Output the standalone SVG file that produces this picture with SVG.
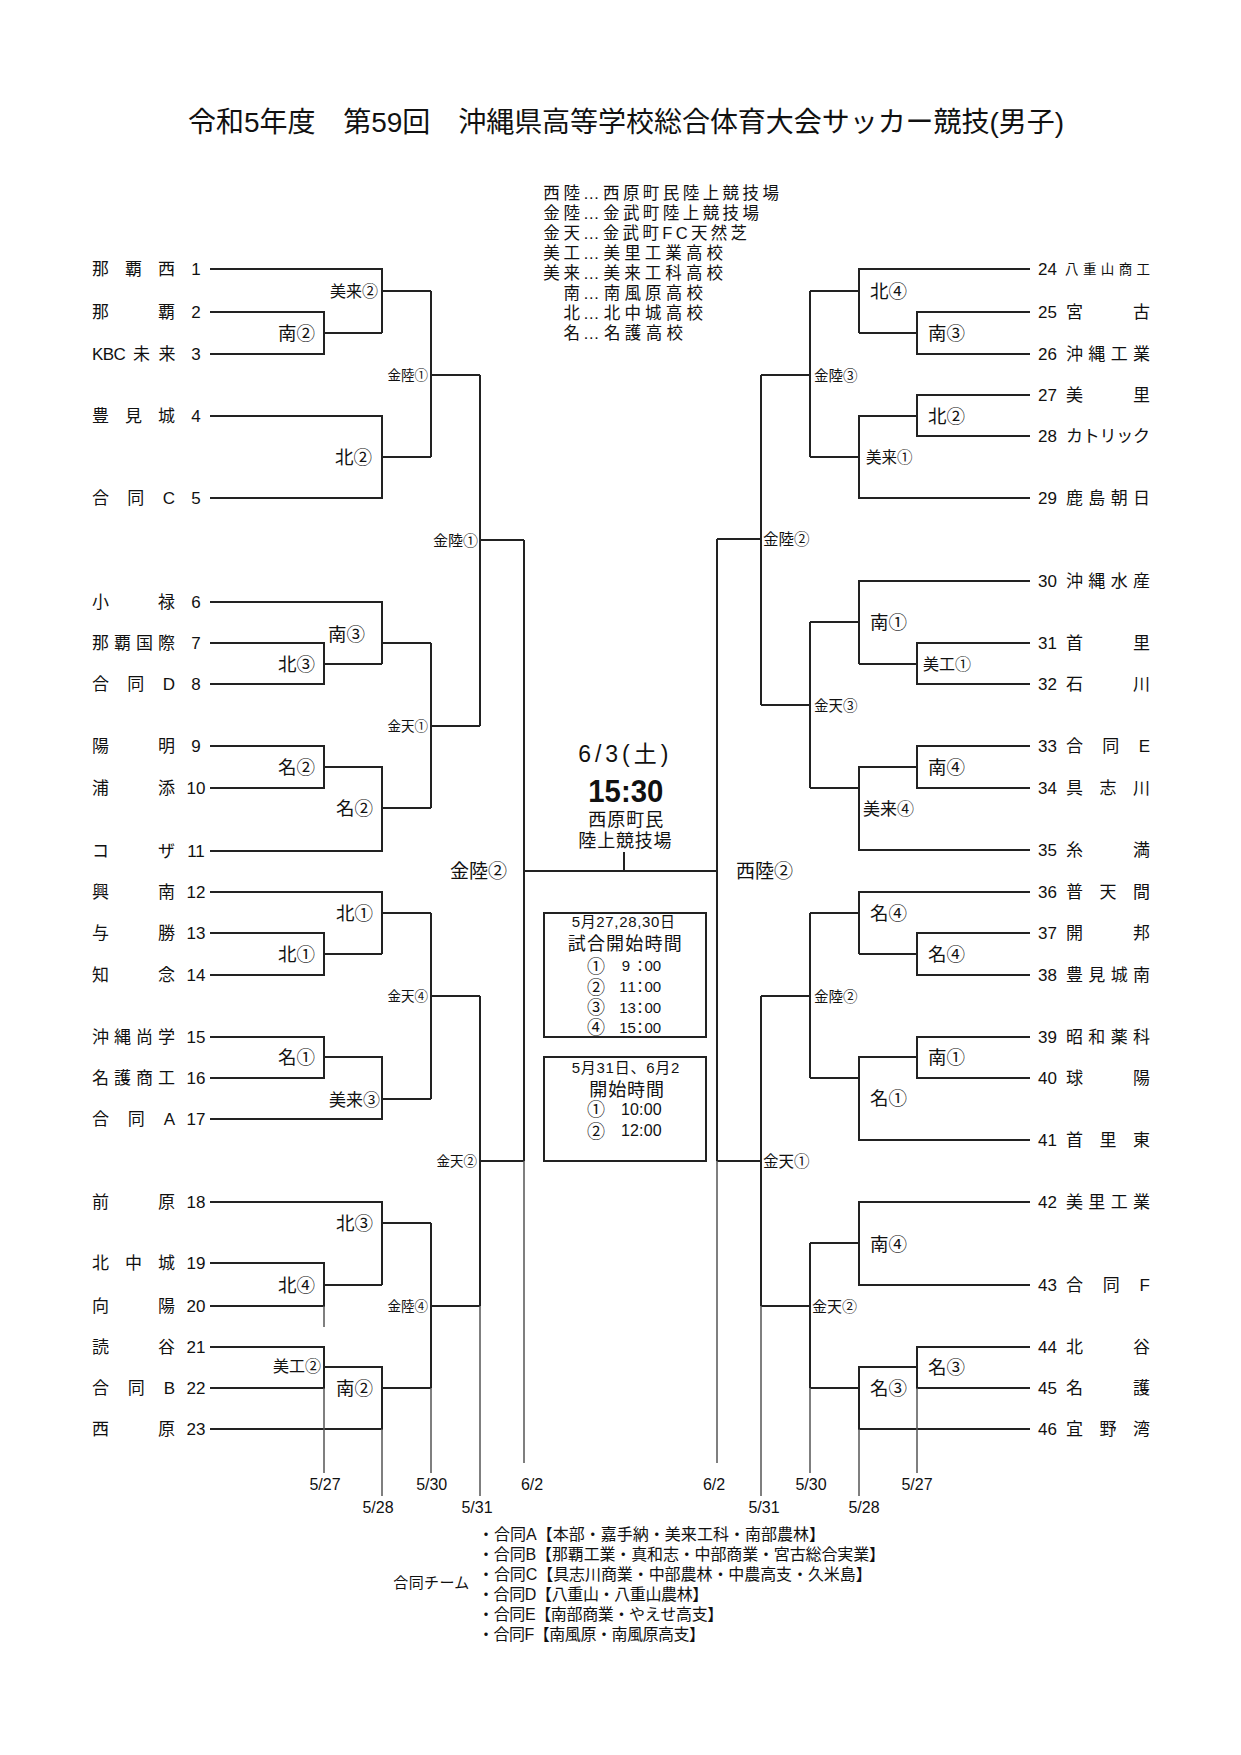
<svg xmlns="http://www.w3.org/2000/svg" width="1241" height="1755" viewBox="0 0 1241 1755">
<style>
.ln{fill:none;stroke:#222;stroke-width:2}
.ext{fill:none;stroke:#555;stroke-width:1.5}
text{font-family:"Liberation Sans","Noto Sans CJK JP",sans-serif;fill:#111}
.nm{font-size:17px}
.no{font-size:17px}
.lb{font-size:18.5px}
.e{text-anchor:end}
.m{text-anchor:middle}
.dt{font-size:16px;text-anchor:middle}
.lg{font-size:16.5px}
.fn{font-size:16px}
.cn{font-size:18px;text-anchor:middle}
.box{fill:none;stroke:#222;stroke-width:2}
</style>
<rect width="1241" height="1755" fill="#fff"/>
<g id="title"><text x="188" y="131.5" font-size="28" textLength="876" lengthAdjust="spacing">令和5年度　第59回　沖縄県高等学校総合体育大会サッカー競技(男子)</text></g>
<g id="legend">
<g id="legend-1"><text class="lg" x="543.3" y="199" textLength="36.7" lengthAdjust="spacing">西陸</text><text class="lg" x="583" y="199" textLength="196" lengthAdjust="spacing">…西原町民陸上競技場</text></g>
<g id="legend-2"><text class="lg" x="543.3" y="219" textLength="36.7" lengthAdjust="spacing">金陸</text><text class="lg" x="583" y="219" textLength="176" lengthAdjust="spacing">…金武町陸上競技場</text></g>
<g id="legend-3"><text class="lg" x="543.3" y="239" textLength="36.7" lengthAdjust="spacing">金天</text><text class="lg" x="583" y="239" textLength="164" lengthAdjust="spacing">…金武町FC天然芝</text></g>
<g id="legend-4"><text class="lg" x="543.3" y="259" textLength="36.7" lengthAdjust="spacing">美工</text><text class="lg" x="583" y="259" textLength="140" lengthAdjust="spacing">…美里工業高校</text></g>
<g id="legend-5"><text class="lg" x="543.3" y="279" textLength="36.7" lengthAdjust="spacing">美来</text><text class="lg" x="583" y="279" textLength="140" lengthAdjust="spacing">…美来工科高校</text></g>
<g id="legend-6"><text class="lg e" x="580" y="299">南</text><text class="lg" x="583" y="299" textLength="120" lengthAdjust="spacing">…南風原高校</text></g>
<g id="legend-7"><text class="lg e" x="580" y="319">北</text><text class="lg" x="583" y="319" textLength="120" lengthAdjust="spacing">…北中城高校</text></g>
<g id="legend-8"><text class="lg e" x="580" y="339">名</text><text class="lg" x="583" y="339" textLength="100" lengthAdjust="spacing">…名護高校</text></g>
</g>
<g id="connectors">
<path class="ln" d="M210,269 H382 V333 M210,312 H324 V354 H210 M324,333 H382 M382,291 H431 M210,416 H382 V498 H210 M382,457 H431 M431,291 V457 M431,375 H480"/>
<path class="ln" d="M210,602 H382 V664 M210,643 H324 V684 H210 M324,664 H382 M382,643 H431 M210,746 H324 V788 H210 M324,767 H382 V851 H210 M382,808 H431 M431,643 V808 M431,726 H480 M480,375 V726 M480,540 H524"/>
<path class="ln" d="M210,892 H382 V954 M210,933 H324 V975 H210 M324,954 H382 M382,913 H431 M210,1037 H324 V1078 H210 M324,1057 H382 V1119 H210 M382,1099 H431 M431,913 V1099 M431,996 H480"/>
<path class="ln" d="M210,1202 H382 V1285 M210,1263 H324 V1306 H210 M324,1285 H382 M382,1223 H431 M210,1347 H324 V1388 H210 M324,1367 H382 V1429 H210 M382,1388 H431 M431,1223 V1388 M431,1306 H480 M480,996 V1306 M480,1161 H524 M524,540 V1161"/>
<path class="ln" d="M524,871 H717 M624,852 V871 M717,539 V1161"/>
<path class="ln" d="M1030,269 H859 V333 M1030,312 H917 V354 H1030 M917,333 H859 M859,291 H810 M1030,395 H917 V436 H1030 M917,416 H859 V498 H1030 M859,457 H810 M810,291 V457 M810,375 H761"/>
<path class="ln" d="M1030,581 H859 V664 M1030,643 H917 V684 H1030 M917,664 H859 M859,622 H810 M1030,746 H917 V788 H1030 M917,767 H859 V850 H1030 M859,788 H810 M810,622 V788 M810,705 H761 M761,375 V705 M761,539 H717"/>
<path class="ln" d="M1030,892 H859 V954 M1030,933 H917 V975 H1030 M917,954 H859 M859,913 H810 M1030,1037 H917 V1078 H1030 M917,1057 H859 V1140 H1030 M859,1078 H810 M810,913 V1078 M810,996 H761"/>
<path class="ln" d="M1030,1202 H859 V1285 H1030 M859,1243 H810 M1030,1347 H917 V1388 H1030 M917,1367 H859 V1429 H1030 M859,1388 H810 M810,1243 V1388 M810,1306 H761 M761,996 V1306 M761,1161 H717"/>
<path class="ext" d="M324,1306 V1327 M324,1388 V1473 M382,1429 V1496 M431,1388 V1473 M480,1306 V1496 M524,1161 V1463 M717,1161 V1463 M761,1306 V1496 M810,1388 V1473 M859,1429 V1496 M917,1388 V1473"/>
</g>
<g id="teams-left">
<g id="team-1"><text class="nm" x="92" y="275" textLength="83" lengthAdjust="spacing">那覇西</text><text class="no m" x="196" y="275">1</text></g>
<g id="team-2"><text class="nm" x="92" y="318" textLength="83" lengthAdjust="spacing">那覇</text><text class="no m" x="196" y="318">2</text></g>
<g id="team-3"><text class="nm" x="92 102.8 113.6 133 158.5" y="360">KBC未来</text><text class="no m" x="196" y="360">3</text></g>
<g id="team-4"><text class="nm" x="92" y="422" textLength="83" lengthAdjust="spacing">豊見城</text><text class="no m" x="196" y="422">4</text></g>
<g id="team-5"><text class="nm" x="92" y="504" textLength="83" lengthAdjust="spacing">合同C</text><text class="no m" x="196" y="504">5</text></g>
<g id="team-6"><text class="nm" x="92" y="608" textLength="83" lengthAdjust="spacing">小禄</text><text class="no m" x="196" y="608">6</text></g>
<g id="team-7"><text class="nm" x="92" y="649" textLength="83" lengthAdjust="spacing">那覇国際</text><text class="no m" x="196" y="649">7</text></g>
<g id="team-8"><text class="nm" x="92" y="690" textLength="83" lengthAdjust="spacing">合同D</text><text class="no m" x="196" y="690">8</text></g>
<g id="team-9"><text class="nm" x="92" y="752" textLength="83" lengthAdjust="spacing">陽明</text><text class="no m" x="196" y="752">9</text></g>
<g id="team-10"><text class="nm" x="92" y="794" textLength="83" lengthAdjust="spacing">浦添</text><text class="no m" x="196" y="794">10</text></g>
<g id="team-11"><text class="nm" x="92" y="857" textLength="83" lengthAdjust="spacing">コザ</text><text class="no m" x="196" y="857">11</text></g>
<g id="team-12"><text class="nm" x="92" y="898" textLength="83" lengthAdjust="spacing">興南</text><text class="no m" x="196" y="898">12</text></g>
<g id="team-13"><text class="nm" x="92" y="939" textLength="83" lengthAdjust="spacing">与勝</text><text class="no m" x="196" y="939">13</text></g>
<g id="team-14"><text class="nm" x="92" y="981" textLength="83" lengthAdjust="spacing">知念</text><text class="no m" x="196" y="981">14</text></g>
<g id="team-15"><text class="nm" x="92" y="1043" textLength="83" lengthAdjust="spacing">沖縄尚学</text><text class="no m" x="196" y="1043">15</text></g>
<g id="team-16"><text class="nm" x="92" y="1084" textLength="83" lengthAdjust="spacing">名護商工</text><text class="no m" x="196" y="1084">16</text></g>
<g id="team-17"><text class="nm" x="92" y="1125" textLength="83" lengthAdjust="spacing">合同A</text><text class="no m" x="196" y="1125">17</text></g>
<g id="team-18"><text class="nm" x="92" y="1208" textLength="83" lengthAdjust="spacing">前原</text><text class="no m" x="196" y="1208">18</text></g>
<g id="team-19"><text class="nm" x="92" y="1269" textLength="83" lengthAdjust="spacing">北中城</text><text class="no m" x="196" y="1269">19</text></g>
<g id="team-20"><text class="nm" x="92" y="1312" textLength="83" lengthAdjust="spacing">向陽</text><text class="no m" x="196" y="1312">20</text></g>
<g id="team-21"><text class="nm" x="92" y="1353" textLength="83" lengthAdjust="spacing">読谷</text><text class="no m" x="196" y="1353">21</text></g>
<g id="team-22"><text class="nm" x="92" y="1394" textLength="83" lengthAdjust="spacing">合同B</text><text class="no m" x="196" y="1394">22</text></g>
<g id="team-23"><text class="nm" x="92" y="1435" textLength="83" lengthAdjust="spacing">西原</text><text class="no m" x="196" y="1435">23</text></g>
</g>
<g id="teams-right">
<g id="team-24"><text class="no" x="1038" y="275">24</text><text x="1065" y="274" font-size="13.5" textLength="85" lengthAdjust="spacing">八重山商工</text></g>
<g id="team-25"><text class="no" x="1038" y="318">25</text><text class="nm" x="1066" y="318" textLength="84" lengthAdjust="spacing">宮古</text></g>
<g id="team-26"><text class="no" x="1038" y="360">26</text><text class="nm" x="1066" y="360" textLength="84" lengthAdjust="spacing">沖縄工業</text></g>
<g id="team-27"><text class="no" x="1038" y="401">27</text><text class="nm" x="1066" y="401" textLength="84" lengthAdjust="spacing">美里</text></g>
<g id="team-28"><text class="no" x="1038" y="442">28</text><text class="nm" x="1066" y="442" textLength="84" lengthAdjust="spacing">カトリック</text></g>
<g id="team-29"><text class="no" x="1038" y="504">29</text><text class="nm" x="1066" y="504" textLength="84" lengthAdjust="spacing">鹿島朝日</text></g>
<g id="team-30"><text class="no" x="1038" y="587">30</text><text class="nm" x="1066" y="587" textLength="84" lengthAdjust="spacing">沖縄水産</text></g>
<g id="team-31"><text class="no" x="1038" y="649">31</text><text class="nm" x="1066" y="649" textLength="84" lengthAdjust="spacing">首里</text></g>
<g id="team-32"><text class="no" x="1038" y="690">32</text><text class="nm" x="1066" y="690" textLength="84" lengthAdjust="spacing">石川</text></g>
<g id="team-33"><text class="no" x="1038" y="752">33</text><text class="nm" x="1066" y="752" textLength="84" lengthAdjust="spacing">合同E</text></g>
<g id="team-34"><text class="no" x="1038" y="794">34</text><text class="nm" x="1066" y="794" textLength="84" lengthAdjust="spacing">具志川</text></g>
<g id="team-35"><text class="no" x="1038" y="856">35</text><text class="nm" x="1066" y="856" textLength="84" lengthAdjust="spacing">糸満</text></g>
<g id="team-36"><text class="no" x="1038" y="898">36</text><text class="nm" x="1066" y="898" textLength="84" lengthAdjust="spacing">普天間</text></g>
<g id="team-37"><text class="no" x="1038" y="939">37</text><text class="nm" x="1066" y="939" textLength="84" lengthAdjust="spacing">開邦</text></g>
<g id="team-38"><text class="no" x="1038" y="981">38</text><text class="nm" x="1066" y="981" textLength="84" lengthAdjust="spacing">豊見城南</text></g>
<g id="team-39"><text class="no" x="1038" y="1043">39</text><text class="nm" x="1066" y="1043" textLength="84" lengthAdjust="spacing">昭和薬科</text></g>
<g id="team-40"><text class="no" x="1038" y="1084">40</text><text class="nm" x="1066" y="1084" textLength="84" lengthAdjust="spacing">球陽</text></g>
<g id="team-41"><text class="no" x="1038" y="1146">41</text><text class="nm" x="1066" y="1146" textLength="84" lengthAdjust="spacing">首里東</text></g>
<g id="team-42"><text class="no" x="1038" y="1208">42</text><text class="nm" x="1066" y="1208" textLength="84" lengthAdjust="spacing">美里工業</text></g>
<g id="team-43"><text class="no" x="1038" y="1291">43</text><text class="nm" x="1066" y="1291" textLength="84" lengthAdjust="spacing">合同F</text></g>
<g id="team-44"><text class="no" x="1038" y="1353">44</text><text class="nm" x="1066" y="1353" textLength="84" lengthAdjust="spacing">北谷</text></g>
<g id="team-45"><text class="no" x="1038" y="1394">45</text><text class="nm" x="1066" y="1394" textLength="84" lengthAdjust="spacing">名護</text></g>
<g id="team-46"><text class="no" x="1038" y="1435">46</text><text class="nm" x="1066" y="1435" textLength="84" lengthAdjust="spacing">宜野湾</text></g>
</g>
<g id="matches-left">
<g id="m-l01"><text class="e" x="378" y="297" font-size="16">美来②</text></g>
<g id="m-l02"><text class="lb e" x="315" y="340">南②</text></g>
<g id="m-l03"><text class="e" x="428" y="380" font-size="13.5">金陸①</text></g>
<g id="m-l04"><text class="lb e" x="372" y="464">北②</text></g>
<g id="m-l05"><text class="e" x="478" y="545.7" font-size="15">金陸①</text></g>
<g id="m-l06"><text class="lb e" x="365" y="641">南③</text></g>
<g id="m-l07"><text class="lb e" x="315" y="671">北③</text></g>
<g id="m-l08"><text class="e" x="428" y="731" font-size="13.5">金天①</text></g>
<g id="m-l09"><text class="lb e" x="315" y="774">名②</text></g>
<g id="m-l10"><text class="lb e" x="373" y="815">名②</text></g>
<g id="m-l11"><text x="450" y="878" font-size="19">金陸②</text></g>
<g id="m-l12"><text class="lb e" x="373" y="920">北①</text></g>
<g id="m-l13"><text class="lb e" x="315" y="961">北①</text></g>
<g id="m-l14"><text class="e" x="428" y="1001" font-size="13.5">金天④</text></g>
<g id="m-l15"><text class="lb e" x="315" y="1064">名①</text></g>
<g id="m-l16"><text class="e" x="380" y="1105.5" font-size="17">美来③</text></g>
<g id="m-l17"><text class="e" x="477" y="1166" font-size="13.5">金天②</text></g>
<g id="m-l18"><text class="lb e" x="373" y="1230">北③</text></g>
<g id="m-l19"><text class="lb e" x="315" y="1292">北④</text></g>
<g id="m-l20"><text class="e" x="428" y="1311" font-size="13.5">金陸④</text></g>
<g id="m-l21"><text class="e" x="321" y="1372" font-size="16">美工②</text></g>
<g id="m-l22"><text class="lb e" x="373" y="1395">南②</text></g>
</g>
<g id="matches-right">
<g id="m-r01"><text class="lb" x="870" y="298">北④</text></g>
<g id="m-r02"><text class="lb" x="928" y="340">南③</text></g>
<g id="m-r03"><text x="814" y="380.5" font-size="14.5">金陸③</text></g>
<g id="m-r04"><text class="lb" x="928" y="423">北②</text></g>
<g id="m-r05"><text x="866" y="463" font-size="15.5">美来①</text></g>
<g id="m-r06"><text x="763" y="545" font-size="15.5">金陸②</text></g>
<g id="m-r07"><text class="lb" x="870" y="629">南①</text></g>
<g id="m-r08"><text x="923" y="670" font-size="16">美工①</text></g>
<g id="m-r09"><text x="814" y="710.5" font-size="14.5">金天③</text></g>
<g id="m-r10"><text class="lb" x="928" y="774">南④</text></g>
<g id="m-r11"><text x="863" y="814.5" font-size="17">美来④</text></g>
<g id="m-r12"><text x="736" y="878" font-size="19">西陸②</text></g>
<g id="m-r13"><text class="lb" x="870" y="920">名④</text></g>
<g id="m-r14"><text class="lb" x="928" y="961">名④</text></g>
<g id="m-r15"><text x="814" y="1001.5" font-size="14.5">金陸②</text></g>
<g id="m-r16"><text class="lb" x="928" y="1064">南①</text></g>
<g id="m-r17"><text class="lb" x="870" y="1105">名①</text></g>
<g id="m-r18"><text x="763" y="1167" font-size="15.5">金天①</text></g>
<g id="m-r19"><text class="lb" x="870" y="1251">南④</text></g>
<g id="m-r20"><text x="812" y="1311.7" font-size="15">金天②</text></g>
<g id="m-r21"><text class="lb" x="928" y="1374">名③</text></g>
<g id="m-r22"><text class="lb" x="870" y="1395">名③</text></g>
</g>
<g id="final">
<text x="578.3" y="761.7" font-size="23" textLength="90" lengthAdjust="spacing">6/3(土)</text>
<text x="588.3" y="801.7" font-size="32" font-weight="bold" textLength="75" lengthAdjust="spacingAndGlyphs">15:30</text>
<text x="588.3" y="825.5" font-size="18" textLength="75" lengthAdjust="spacing">西原町民</text>
<text x="578.3" y="846.5" font-size="18" textLength="93.3" lengthAdjust="spacing">陸上競技場</text>
</g>
<g id="schedule-1">
<rect class="box" x="544" y="913" width="162" height="124"/>
<text x="571.7" y="927.4" font-size="15" textLength="103.3" lengthAdjust="spacing">5月27,28,30日</text>
<text x="567.7" y="949.5" font-size="18" textLength="114" lengthAdjust="spacing">試合開始時間</text>
<text class="cn" x="596" y="972.8">①</text>
<text x="621.7 632.5 644.5 652.8" y="971.4" font-size="15">9：00</text>
<text class="cn" x="596" y="993.5">②</text>
<text x="619.3 627.6 632.5 644.5 652.8" y="992.1" font-size="15">11：00</text>
<text class="cn" x="596" y="1014.1">③</text>
<text x="619.3 627.6 632.5 644.5 652.8" y="1012.7" font-size="15">13：00</text>
<text class="cn" x="596" y="1034.1">④</text>
<text x="619.3 627.6 632.5 644.5 652.8" y="1032.7" font-size="15">15：00</text>
</g>
<g id="schedule-2">
<rect class="box" x="544" y="1057" width="162" height="104"/>
<text x="571.7" y="1073.4" font-size="15" textLength="107.6" lengthAdjust="spacing">5月31日、6月2</text>
<text x="589.3" y="1096" font-size="18" textLength="74.7" lengthAdjust="spacing">開始時間</text>
<text class="cn" x="596" y="1116.1">①</text>
<text x="621" y="1115" font-size="16" textLength="40.7" lengthAdjust="spacing">10:00</text>
<text class="cn" x="596" y="1137.5">②</text>
<text x="621" y="1136.4" font-size="16" textLength="40.7" lengthAdjust="spacing">12:00</text>
</g>
<g id="dates">
<text class="dt" x="325" y="1490">5/27</text>
<text class="dt" x="378" y="1513">5/28</text>
<text class="dt" x="431.7" y="1490">5/30</text>
<text class="dt" x="477" y="1513">5/31</text>
<text class="dt" x="532" y="1490">6/2</text>
<text class="dt" x="714" y="1490">6/2</text>
<text class="dt" x="764" y="1513">5/31</text>
<text class="dt" x="811" y="1490">5/30</text>
<text class="dt" x="864" y="1513">5/28</text>
<text class="dt" x="917" y="1490">5/27</text>
</g>
<g id="joint-teams">
<text x="393.3" y="1588.4" font-size="15" textLength="76" lengthAdjust="spacing">合同チーム</text>
<text class="fn" x="478" y="1540" textLength="347" lengthAdjust="spacing">・合同A【本部・嘉手納・美来工科・南部農林】</text>
<text class="fn" x="478" y="1560" textLength="407" lengthAdjust="spacing">・合同B【那覇工業・真和志・中部商業・宮古総合実業】</text>
<text class="fn" x="478" y="1580" textLength="393.7" lengthAdjust="spacing">・合同C【具志川商業・中部農林・中農高支・久米島】</text>
<text class="fn" x="478" y="1600" textLength="230.3" lengthAdjust="spacing">・合同D【八重山・八重山農林】</text>
<text class="fn" x="478" y="1620" textLength="245.3" lengthAdjust="spacing">・合同E【南部商業・やえせ高支】</text>
<text class="fn" x="478" y="1640" textLength="227" lengthAdjust="spacing">・合同F【南風原・南風原高支】</text>
</g>
</svg>
